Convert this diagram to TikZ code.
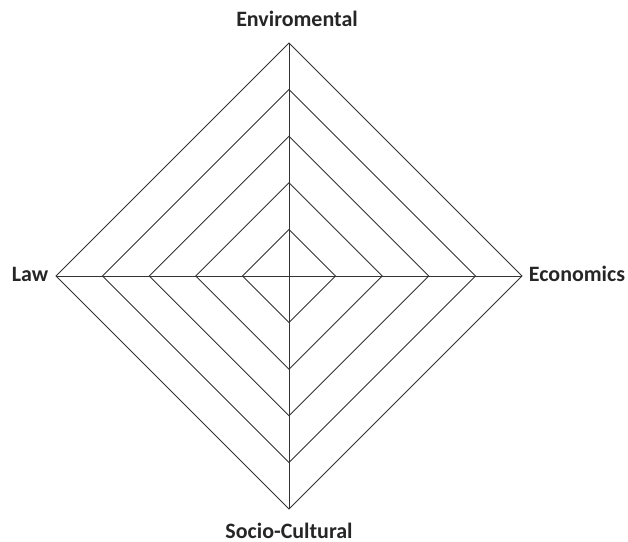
\documentclass[tikz,border=0pt]{standalone}
\usepackage{fontspec}
\setmainfont{Carlito}
\usetikzlibrary{calc}
\begin{document}
\begin{tikzpicture}[x=0.02cm,y=0.02cm,
    grid/.style={draw=black!80,line width=0.5pt},
    lbl/.style={font=\bfseries\fontsize{12.5}{14}\selectfont,text=black!85,inner sep=0pt,anchor=base}]
            \useasboundingbox (0,0) rectangle (628,541);
            % Draw the centre and the axis ends
            \coordinate (c) at (289,265);
            \coordinate (top) at (289,498);
            \coordinate (bot) at (289,32);
            \coordinate (lft) at (56,265);
            \coordinate (rgt) at (522,265);

            % Draw the five diamonds
            \foreach \r in {1,...,5} {
                \draw[grid] ($(c)+(0,46.6*\r)$) -- ($(c)+(46.6*\r,0)$) -- ($(c)+(0,-46.6*\r)$) -- ($(c)+(-46.6*\r,0)$) -- cycle;
            }

            % Draw the axes
            \draw[grid] (top) -- (bot);
            \draw[grid] (lft) -- (rgt);

            % Draw axis labels
            \node[lbl] (env) at (297,514) {Enviromental};
            \node[lbl] (law) at (30,259) {Law};
            \node[lbl] (eco) at (577,259) {Economics};
            \node[lbl] (soc) at (289,3) {Socio-Cultural};
        \end{tikzpicture}
\end{document}
